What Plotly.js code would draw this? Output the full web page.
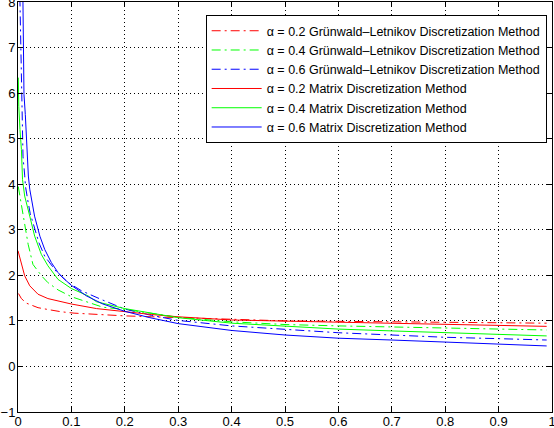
<!DOCTYPE html>
<html>
<head>
<meta charset="utf-8">
<script src="https://cdn.plot.ly/plotly-3.0.1.min.js"></script>
<style>
  html, body { margin: 0; padding: 0; background: #fff; }
  #chart { width: 554px; height: 428px; }
</style>
</head>
<body>
<div id="chart"></div>
<script>
// values
var xGl02 = [0.001, 0.0063, 0.0156, 0.0375, 0.056, 0.081, 0.105, 0.15, 0.17, 0.2, 0.25, 0.3, 0.4, 0.5, 0.6, 0.7, 0.8, 0.9, 0.99];
var yGl02 = [1.6, 1.49, 1.39, 1.29, 1.25, 1.2, 1.17, 1.14, 1.12, 1.11, 1.09, 1.07, 1.04, 1.0, 0.99, 0.98, 0.97, 0.96, 0.95];

var xGl04 = [0.0005, 0.0075, 0.0125, 0.019, 0.028, 0.044, 0.056, 0.075, 0.1, 0.122, 0.159, 0.2, 0.25, 0.3, 0.4, 0.5, 0.6, 0.7, 0.8, 0.9, 0.99];
var yGl04 = [3.95, 3.45, 3.08, 2.68, 2.24, 1.99, 1.84, 1.68, 1.53, 1.44, 1.3, 1.25, 1.16, 1.08, 0.98, 0.92, 0.89, 0.87, 0.84, 0.82, 0.8];

var xGl06 = [0.0035, 0.0045, 0.0055, 0.0065, 0.0082, 0.0094, 0.0125, 0.014, 0.019, 0.023, 0.032, 0.039, 0.05, 0.072, 0.094, 0.119, 0.156, 0.2, 0.25, 0.3, 0.4, 0.5, 0.6, 0.7, 0.8, 0.9, 0.99];
var yGl06 = [8.1, 7.4, 6.8, 6.1, 5.3, 4.6, 4.2, 3.95, 3.6, 3.35, 3.0, 2.72, 2.42, 2.08, 1.84, 1.66, 1.47, 1.26, 1.12, 1.01, 0.89, 0.81, 0.74, 0.69, 0.64, 0.61, 0.58];

var xMat02 = [0, 0.0063, 0.0125, 0.022, 0.0375, 0.056, 0.081, 0.1, 0.147, 0.2, 0.25, 0.3, 0.4, 0.5, 0.6, 0.7, 0.8, 0.9, 0.99];
var yMat02 = [2.54, 2.28, 1.99, 1.77, 1.585, 1.49, 1.425, 1.37, 1.27, 1.2, 1.14, 1.09, 1.02, 0.995, 0.97, 0.95, 0.915, 0.9, 0.88];

var xMat04 = [0.0005, 0.0015, 0.0037, 0.0064, 0.0085, 0.0125, 0.022, 0.0312, 0.0437, 0.056, 0.075, 0.1, 0.131, 0.147, 0.2, 0.247, 0.3, 0.4, 0.5, 0.6, 0.7, 0.8, 0.9, 0.99];
var yMat04 = [6.34, 5.71, 5.2, 4.76, 4.1, 3.74, 3.3, 2.86, 2.46, 2.21, 1.91, 1.71, 1.55, 1.42, 1.27, 1.18, 1.07, 0.95, 0.88, 0.82, 0.78, 0.745, 0.7, 0.67];

var xMat06 = [0.009, 0.0097, 0.0112, 0.0137, 0.0156, 0.0175, 0.0194, 0.022, 0.025, 0.031, 0.041, 0.05, 0.0625, 0.075, 0.0875, 0.1, 0.128, 0.159, 0.2, 0.247, 0.3, 0.4, 0.5, 0.6, 0.7, 0.8, 0.9, 0.99];
var yMat06 = [8.3, 6.37, 5.97, 5.53, 5.06, 4.62, 4.18, 3.89, 3.67, 3.3, 2.86, 2.57, 2.28, 2.06, 1.91, 1.78, 1.55, 1.37, 1.21, 1.07, 0.94, 0.79, 0.69, 0.62, 0.58, 0.53, 0.48, 0.45];

var alphas = ['0.2', '0.4', '0.6'];
var colors = ['#ff0000', '#00ff00', '#0000ff'];

var dashDot = '9px,4px,2px,4px';
var fontFamily = '"Liberation Sans", Helvetica, Arial, sans-serif';

function makeTrace(x, y, i, method, dash) {
    return {
        x: x,
        y: y,
        type: 'scatter',
        mode: 'lines',
        name: '\u03b1 = ' + alphas[i] + ' ' + method,
        line: {color: colors[i], width: 1, dash: dash},
        hoverinfo: 'skip'
    };
}

var gl = 'Gr\u00fcnwald\u2013Letnikov Discretization Method';
var mat = 'Matrix Discretization Method';

var data = [
    makeTrace(xGl02, yGl02, 0, gl, dashDot),
    makeTrace(xGl04, yGl04, 1, gl, dashDot),
    makeTrace(xGl06, yGl06, 2, gl, dashDot),
    makeTrace(xMat02, yMat02, 0, mat, 'solid'),
    makeTrace(xMat04, yMat04, 1, mat, 'solid'),
    makeTrace(xMat06, yMat06, 2, mat, 'solid')
];

var axisStyle = {
    showline: true,
    linecolor: '#000',
    linewidth: 1,
    mirror: 'ticks',
    ticks: 'inside',
    ticklen: 5,
    tickcolor: '#000',
    showgrid: true,
    gridcolor: '#000',
    gridwidth: 1,
    griddash: '1px,3px',
    zeroline: false,
    ticklabeloverflow: 'allow',
    tickfont: {family: fontFamily, size: 13, color: '#000'}
};

var layout = {
    width: 554,
    height: 428,
    margin: {l: 18, r: 2, t: 2, b: 16},
    paper_bgcolor: '#fff',
    plot_bgcolor: '#fff',
    font: {family: fontFamily, size: 13, color: '#000'},
    xaxis: Object.assign({}, axisStyle, {range: [0, 1], tick0: 0, dtick: 0.1, ticklabelstandoff: -3}),
    yaxis: Object.assign({}, axisStyle, {range: [-1, 8], tick0: 0, dtick: 1, ticklabelstandoff: -1}),
    showlegend: true,
    legend: {
        x: 0.99,
        xanchor: 'right',
        y: 0.968,
        yanchor: 'top',
        bgcolor: '#fff',
        bordercolor: '#000',
        borderwidth: 1,
        itemwidth: 50,
        font: {family: fontFamily, size: 12.5, color: '#000'},
        tracegroupgap: 0
    }
};

Plotly.newPlot('chart', data, layout, {staticPlot: true, displayModeBar: false});
</script>
</body>
</html>
